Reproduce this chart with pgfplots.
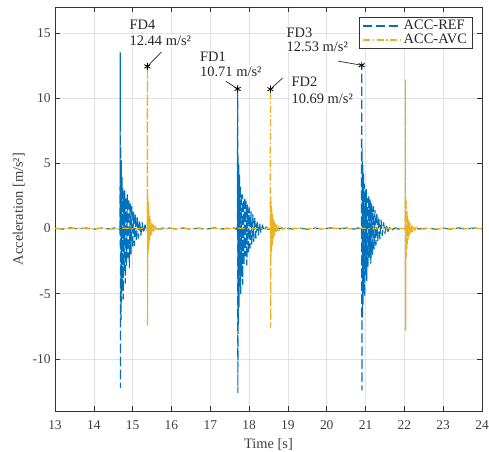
\documentclass[border=0pt]{standalone}
\usepackage{fontspec}
\setmainfont{Liberation Serif}
\usepackage{pgfplots}
\pgfplotsset{compat=1.18}
\definecolor{cref}{RGB}{0,114,189}
\definecolor{cavc}{RGB}{237,177,32}
\begin{document}
\begin{tikzpicture}
\begin{axis}[
  scale only axis, width=427bp, height=404bp,
  xmin=13, xmax=24, ymin=-14, ymax=17,
  xtick={13,14,...,24}, ytick={-10,-5,0,5,10,15},
  grid=major, major grid style={black!11, line width=0.5bp},
  tick align=inside, tick pos=both, major tick length=5bp,
  axis line style={black!80, line width=0.6bp},
  tick style={black!80, line width=0.6bp},
  /pgf/number format/assume math mode=true,
  ticklabel style={font=\fontsize{13.5}{15}\selectfont, text=black!75},
  xticklabel style={yshift=-6bp},
  yticklabel style={xshift=-1bp},
  xlabel={Time [s]}, ylabel={Acceleration [m/s²]},
  label style={font=\fontsize{14.5}{17}\selectfont, text=black!75},
  xlabel style={yshift=-2bp},
  ylabel style={yshift=1bp},
  legend style={at={(rel axis cs:0.977,0.975)}, anchor=north east,
    font=\fontsize{14.5}{17}\selectfont, text=black!85, draw=black!80, line width=0.6bp,
    fill=white, inner xsep=3bp, inner ysep=1bp, row sep=-1bp},
  legend cell align=left,
  legend image code/.code={\draw[#1, line width=1.2bp] (0bp,0bp) -- (38bp,0bp);},
  every axis plot/.append style={line join=round},
]
\addplot[cref, line width=1.2bp, dash pattern=on 9bp off 4bp] coordinates {
(13.0,0.02) (13.2,-0.04) (13.4,0.05) (13.6,-0.03) (13.8,0.04) (14.0,-0.05) (14.2,0.04) (14.4,-0.03) (14.55,0.05)
(14.60,0.05) (14.65,-0.06) (14.672,0.1) (14.676,-0.4)
(14.680,13.5) (14.686,-12.2) (14.692,6.3) (14.700,-7.0) (14.708,5.2) (14.716,-5.6) (14.726,4.0) (14.736,-4.8)
(14.746,3.2) (14.758,-5.4) (14.770,2.8) (14.784,-3.4) (14.798,2.9) (14.812,-4.2) (14.828,2.4) (14.844,-2.8)
(14.862,2.6) (14.880,-2.2) (14.898,2.3) (14.916,-3.0) (14.936,1.9) (14.956,-2.0) (14.978,1.7) (15.000,-1.5)
(15.022,1.3) (15.046,-1.3) (15.070,1.1) (15.095,-1.0) (15.120,0.9) (15.150,-0.75) (15.180,0.65) (15.210,-0.55)
(15.245,0.45) (15.280,-0.35) (15.320,0.28) (15.360,-0.2) (15.410,0.14) (15.470,-0.08) (15.54,0.04)
(15.7,-0.04) (15.9,0.05) (16.1,-0.03) (16.3,0.04) (16.5,-0.05) (16.7,0.03) (16.9,-0.04) (17.1,0.05) (17.3,-0.03) (17.5,0.04)
(17.62,0.04) (17.67,-0.05) (17.697,0.1) (17.701,-0.4)
(17.705,10.71) (17.711,-12.6) (17.717,5.6) (17.725,-7.4) (17.733,4.9) (17.741,-6.0) (17.751,4.1) (17.761,-4.6)
(17.771,3.3) (17.783,-5.0) (17.795,2.7) (17.809,-3.6) (17.823,2.6) (17.837,-4.3) (17.853,2.2) (17.869,-2.7)
(17.887,2.4) (17.905,-2.1) (17.923,2.1) (17.941,-2.8) (17.961,1.8) (17.981,-1.9) (18.003,1.6) (18.025,-1.5)
(18.047,1.3) (18.071,-1.2) (18.095,1.1) (18.120,-1.0) (18.145,0.85) (18.175,-0.75) (18.205,0.6) (18.235,-0.5)
(18.270,0.42) (18.305,-0.35) (18.345,0.27) (18.385,-0.2) (18.435,0.13) (18.495,-0.08) (18.56,0.04)
(18.7,-0.04) (18.9,0.05) (19.1,-0.03) (19.3,0.04) (19.5,-0.05) (19.7,0.03) (19.9,-0.04) (20.1,0.05) (20.3,-0.03) (20.5,0.04) (20.7,-0.04)
(20.82,0.05) (20.87,-0.04) (20.892,0.1) (20.896,-0.4)
(20.900,12.53) (20.906,-12.4) (20.912,6.2) (20.920,-6.8) (20.928,5.0) (20.936,-5.8) (20.946,4.3) (20.956,-4.9)
(20.966,3.4) (20.978,-5.2) (20.990,2.9) (21.004,-3.5) (21.018,3.0) (21.032,-4.0) (21.048,2.3) (21.064,-2.9)
(21.082,2.5) (21.100,-2.2) (21.118,2.2) (21.136,-2.7) (21.156,1.9) (21.176,-2.0) (21.198,1.7) (21.220,-1.6)
(21.242,1.4) (21.266,-1.3) (21.290,1.2) (21.315,-1.0) (21.340,0.9) (21.370,-0.8) (21.400,0.65) (21.430,-0.55)
(21.465,0.45) (21.500,-0.38) (21.540,0.3) (21.580,-0.22) (21.630,0.15) (21.690,-0.1) (21.76,0.05) (21.85,-0.03)
(22.0,-0.04) (22.2,0.05) (22.4,-0.03) (22.6,0.04) (22.8,-0.05) (23.0,0.03) (23.2,-0.04) (23.4,0.05) (23.6,-0.03) (23.8,0.04) (24.0,-0.02)
};
\addlegendentry{ACC-REF}
\addplot[cavc, line width=1.2bp, dash pattern=on 7bp off 2.5bp on 1.5bp off 2.5bp] coordinates {
(13.0,0.01) (13.3,-0.03) (13.6,0.03) (13.9,-0.02) (14.2,0.03) (14.5,-0.03) (14.8,0.02) (15.1,-0.03)
(15.30,0.03) (15.36,-0.05) (15.374,0.12)
(15.380,12.44) (15.385,-7.4) (15.390,2.5) (15.396,-2.0) (15.402,2.1) (15.409,-1.6) (15.416,1.4) (15.424,-1.2)
(15.432,1.0) (15.442,-0.85) (15.452,0.7) (15.464,-0.6) (15.476,0.5) (15.490,-0.42) (15.505,0.36) (15.522,-0.3)
(15.540,0.26) (15.560,-0.22) (15.585,0.18) (15.615,-0.15) (15.650,0.12) (15.700,-0.09) (15.760,0.07) (15.850,-0.05) (15.95,0.03)
(16.2,-0.03) (16.5,0.02) (16.8,-0.03) (17.1,0.03) (17.4,-0.02) (17.7,0.03) (18.0,-0.03) (18.3,0.02)
(18.47,0.03) (18.53,-0.05) (18.544,0.12)
(18.550,10.69) (18.555,-7.6) (18.560,2.4) (18.566,-2.3) (18.572,2.0) (18.579,-1.7) (18.586,1.5) (18.594,-1.3)
(18.602,1.1) (18.612,-0.9) (18.622,0.75) (18.634,-0.65) (18.646,0.55) (18.660,-0.45) (18.675,0.38) (18.692,-0.32)
(18.710,0.27) (18.730,-0.23) (18.755,0.19) (18.785,-0.15) (18.820,0.12) (18.870,-0.09) (18.930,0.07) (19.020,-0.05) (19.12,0.03)
(19.4,-0.03) (19.7,0.02) (20.0,-0.03) (20.3,0.03) (20.6,-0.02) (20.9,0.03) (21.2,-0.03) (21.5,0.02) (21.8,-0.03)
(21.95,0.03) (22.01,-0.05) (22.024,0.12)
(22.030,11.4) (22.035,-7.8) (22.040,2.3) (22.046,-2.2) (22.052,2.1) (22.059,-1.7) (22.066,1.4) (22.074,-1.2)
(22.082,1.0) (22.092,-0.85) (22.102,0.7) (22.114,-0.6) (22.126,0.5) (22.140,-0.42) (22.155,0.36) (22.172,-0.3)
(22.190,0.26) (22.210,-0.22) (22.235,0.18) (22.265,-0.15) (22.300,0.12) (22.350,-0.09) (22.410,0.07) (22.500,-0.05) (22.6,0.03)
(22.9,-0.03) (23.2,0.02) (23.5,-0.03) (23.8,0.02) (24.0,-0.01)
};
\addlegendentry{ACC-AVC}
\addplot[only marks, mark=asterisk, mark size=3.5bp, black, line width=0.8bp, forget plot]
  coordinates {(15.38,12.44) (17.705,10.71) (18.55,10.69) (20.90,12.53)};
\draw[black!85, line width=0.7bp] (axis cs:15.74,13.54) -- (axis cs:15.38,12.44);
\draw[black!85, line width=0.7bp] (axis cs:17.40,11.31) -- (axis cs:17.705,10.71);
\draw[black!85, line width=0.7bp] (axis cs:18.86,11.54) -- (axis cs:18.55,10.69);
\draw[black!85, line width=0.7bp] (axis cs:20.29,12.85) -- (axis cs:20.90,12.53);
\begin{scope}[every node/.style={anchor=base west, fill=white, inner xsep=1bp, inner ysep=1.5bp, text=black!85, font=\fontsize{14.5}{17}\selectfont}]
\node at (axis cs:14.893,15.31) {FD4};
\node at (axis cs:14.893,14.08) {12.44 m/s²};
\node at (axis cs:16.709,12.85) {FD1};
\node at (axis cs:16.709,11.69) {10.71 m/s²};
\node at (axis cs:19.063,10.92) {FD2};
\node at (axis cs:19.063,9.62) {10.69 m/s²};
\node at (axis cs:18.935,14.69) {FD3};
\node at (axis cs:18.935,13.62) {12.53 m/s²};
\end{scope}
\end{axis}
\pgfresetboundingbox
\path[use as bounding box] ([shift={(-55bp,-41bp)}]current axis.south west) rectangle ([shift={(7bp,7bp)}]current axis.north east);
\end{tikzpicture}
\end{document}
